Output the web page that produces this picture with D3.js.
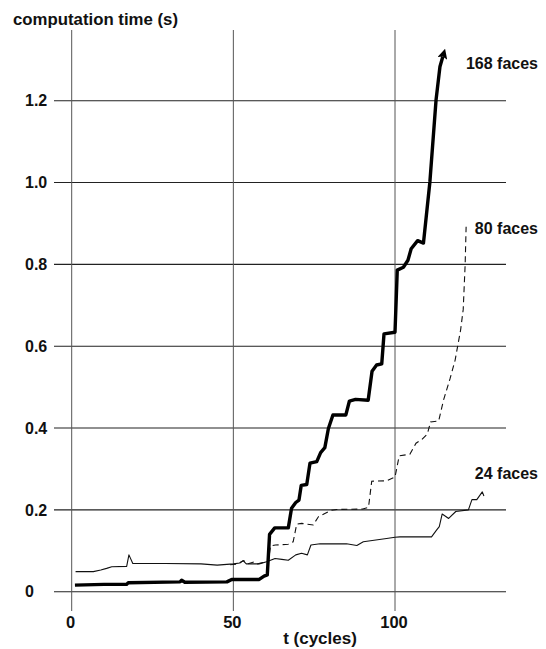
<!DOCTYPE html>
<html>
<head>
<meta charset="utf-8">
<script src="https://cdn.jsdelivr.net/npm/d3@7/dist/d3.min.js"></script>
<style>
  html, body { margin: 0; padding: 0; background: #fff; }
  svg { display: block; }
  text { font-family: "Liberation Sans", Arial, Helvetica, sans-serif; font-weight: bold; fill: #111; }
</style>
</head>
<body>
<svg id="chart" width="546" height="649"></svg>
<script>
// ---- data ----
const yTicks = [0, 0.2, 0.4, 0.6, 0.8, 1.0, 1.2];
const yTickLabels = ["0", "0.2", "0.4", "0.6", "0.8", "1.0", "1.2"];
const xTicks = [0, 50, 100];
const xTickLabels = ["0", "50", "100"];
const seriesNames = ["168 faces", "80 faces", "24 faces"];

// 168 faces (thick line)
const faces168 = [
  [1, 0.016], [10, 0.018], [17, 0.018], [17.5, 0.022], [33.5, 0.024], [34, 0.028], [35, 0.023],
  [48, 0.024], [49.5, 0.030], [58, 0.030], [59.5, 0.038], [60.5, 0.041], [61.2, 0.140],
  [62.8, 0.156], [67, 0.156], [68, 0.204], [69.3, 0.218], [70.3, 0.224], [71, 0.260],
  [72.7, 0.262], [73.7, 0.314], [75.8, 0.318], [77, 0.340], [78.3, 0.352], [79.4, 0.399],
  [80.8, 0.432], [84.8, 0.432], [85.9, 0.466], [87.8, 0.470], [91.7, 0.468], [92.9, 0.539],
  [94.3, 0.554], [95.9, 0.557], [96.6, 0.630], [100, 0.634], [100.7, 0.786], [102.6, 0.793],
  [104, 0.810], [105, 0.838], [107, 0.858], [108.8, 0.852], [110.8, 1.002], [112.7, 1.202],
  [113.9, 1.283], [114.8, 1.308]
];

// 80 faces (dashed line)
const faces80 = [
  [49, 0.066], [51, 0.067], [53.2, 0.076], [54.5, 0.068], [56.5, 0.073], [57.5, 0.068],
  [59.5, 0.072], [60.8, 0.072], [61.5, 0.112], [63, 0.114], [67, 0.116], [68.5, 0.122],
  [69.6, 0.165], [71.1, 0.167], [74.7, 0.163], [76.3, 0.183], [78, 0.190], [80.4, 0.199],
  [82, 0.201], [90, 0.202], [91.8, 0.206], [92.8, 0.270], [97.4, 0.271], [100, 0.280],
  [101.3, 0.332], [104.6, 0.336], [106.5, 0.363], [108.3, 0.372], [110, 0.385], [111, 0.415],
  [113.5, 0.417], [115, 0.468], [117, 0.520], [118.6, 0.566], [120.3, 0.640], [121.1, 0.690],
  [121.7, 0.800], [122, 0.892]
];

// 24 faces (thin solid line)
const faces24 = [
  [1.2, 0.049], [6.7, 0.049], [9, 0.053], [10.8, 0.057], [12.4, 0.061], [17, 0.062],
  [17.7, 0.090], [18.9, 0.069], [29, 0.069], [40, 0.068], [45, 0.065], [50, 0.068],
  [52, 0.070], [53, 0.076], [54, 0.068], [58, 0.068], [60.3, 0.073], [62.9, 0.081],
  [65, 0.079], [67, 0.077], [69.3, 0.090], [71.1, 0.094], [72.9, 0.090], [74, 0.114],
  [76.8, 0.117], [85, 0.117], [88.2, 0.113], [90.2, 0.122], [97.4, 0.130], [100, 0.133],
  [101.5, 0.134], [111.3, 0.134], [112.9, 0.151], [113.7, 0.159], [114.6, 0.190],
  [116.6, 0.179], [118.8, 0.196], [122.7, 0.200], [123.8, 0.225], [125.3, 0.225],
  [127, 0.244], [127.5, 0.234]
];

// label anchor values (y in data units)
const labelValues = [1.292, 0.888, 0.289];

// ---- drawing ----
const svg = d3.select("#chart");

const x = d3.scaleLinear().domain([0, 100]).range([71.7, 395]);
const y = d3.scaleLinear().domain([0, 1.2]).range([591.7, 100.7]);

const gridLeft = 54, gridRight = 506, gridTop = 30, gridBottom = 611;

// horizontal grid lines
svg.append("g").selectAll("line").data(yTicks).join("line")
  .attr("x1", gridLeft).attr("x2", gridRight)
  .attr("y1", d => y(d)).attr("y2", d => y(d))
  .attr("stroke", "#222").attr("stroke-width", 1.1);

// vertical grid lines
svg.append("g").selectAll("line").data(xTicks).join("line")
  .attr("x1", d => x(d)).attr("x2", d => x(d))
  .attr("y1", gridTop).attr("y2", gridBottom)
  .attr("stroke", "#555").attr("stroke-width", 1);

// y tick labels
svg.append("g").selectAll("text").data(yTicks).join("text")
  .attr("x", 25).attr("y", d => y(d))
  .attr("dy", "0.36em")
  .attr("font-size", 16)
  .text((d, i) => yTickLabels[i]);

// x tick labels
svg.append("g").selectAll("text").data(xTicks).join("text")
  .attr("x", d => x(d) - 1).attr("y", 628)
  .attr("text-anchor", "middle")
  .attr("font-size", 16.5)
  .text((d, i) => xTickLabels[i]);

// axis titles
svg.append("text").attr("x", 13).attr("y", 25).attr("font-size", 16.8)
  .text("computation time (s)");
svg.append("text").attr("x", 320).attr("y", 644).attr("text-anchor", "middle")
  .attr("font-size", 17).text("t (cycles)");

// arrow marker
svg.append("defs").append("marker")
  .attr("id", "arrow").attr("viewBox", "0 0 10 10")
  .attr("refX", 2).attr("refY", 5)
  .attr("markerWidth", 3).attr("markerHeight", 3)
  .attr("markerUnits", "strokeWidth")
  .attr("orient", "auto")
  .append("path").attr("d", "M0,0 L10,5 L0,10 L2,5 Z").attr("fill", "#000");

const line = d3.line().x(d => x(d[0])).y(d => y(d[1]));

svg.append("path").datum(faces24).attr("d", line)
  .attr("fill", "none").attr("stroke", "#111").attr("stroke-width", 1.1)
  .attr("stroke-linejoin", "round");

svg.append("path").datum(faces80).attr("d", line)
  .attr("fill", "none").attr("stroke", "#111").attr("stroke-width", 1.1)
  .attr("stroke-dasharray", "6,4");

svg.append("path").datum(faces168).attr("d", line)
  .attr("fill", "none").attr("stroke", "#000").attr("stroke-width", 3.4)
  .attr("stroke-linejoin", "round")
  .attr("marker-end", "url(#arrow)");

// series labels
svg.append("g").selectAll("text").data(seriesNames).join("text")
  .attr("x", 538).attr("y", (d, i) => y(labelValues[i]))
  .attr("dy", "0.36em")
  .attr("text-anchor", "end")
  .attr("font-size", 16)
  .text(d => d);
</script>
</body>
</html>
